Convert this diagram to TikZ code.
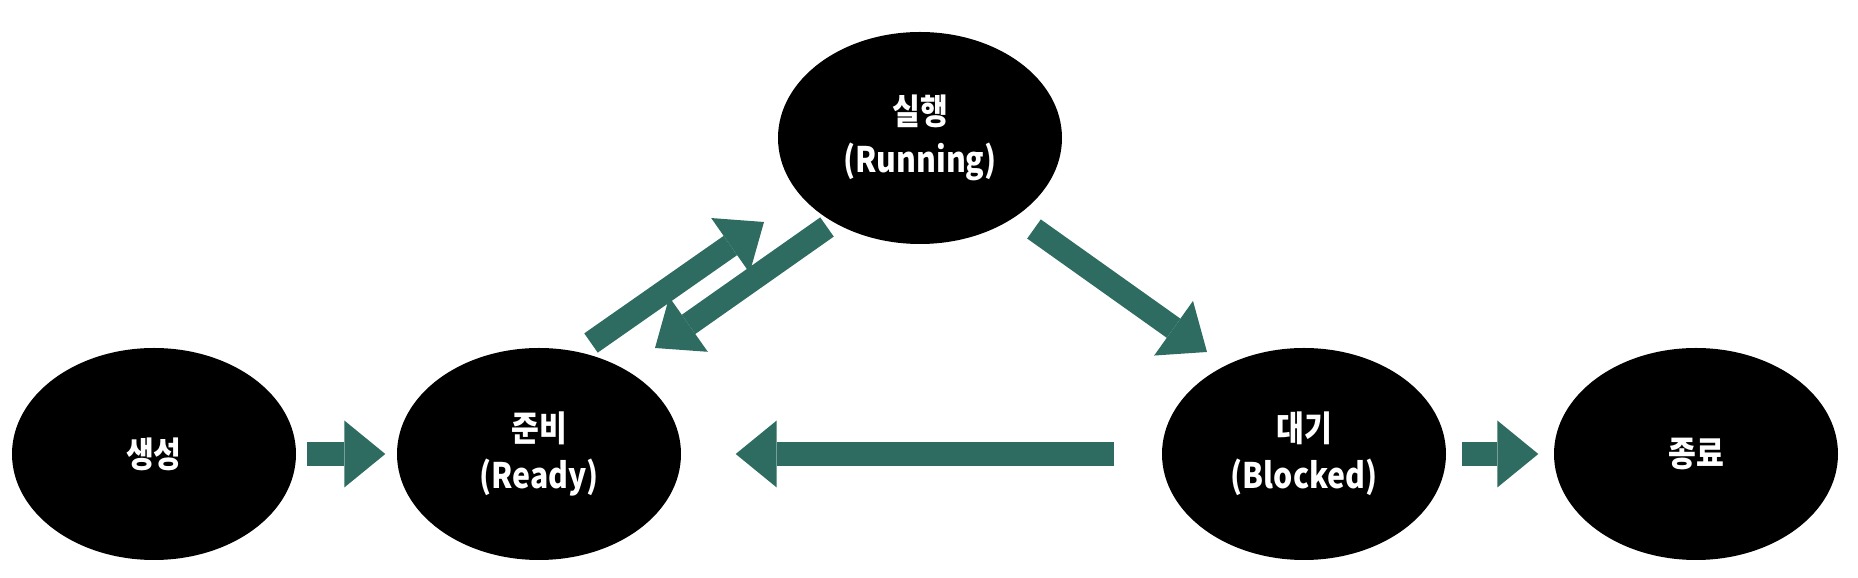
\documentclass[tikz,border=0pt]{standalone}
\usepackage{fontspec}
\usepackage{xcolor}
\usepackage{tikz}
\usetikzlibrary{shapes}
\usetikzlibrary{arrows.meta}
\newfontfamily\krfont[FakeStretch=0.86]{Noto Sans CJK KR}
\definecolor{arrowteal}{RGB}{46,107,97}
\tikzset{
	state node/.style={ellipse,fill=black,text=white,inner sep=0pt,minimum width=2.84cm,
		minimum height=2.12cm,align=center,font=\krfont\bfseries\fontsize{10}{13.5}\selectfont},
	bigarrow/.style={draw=arrowteal,line width=0.235cm,
		-{Triangle[width=0.67cm,length=0.41cm,line width=0pt]}}
}

\begin{document}
\begin{tikzpicture}[bigarrow/.append style={fill=arrowteal}]
      \useasboundingbox (0,0) rectangle (18.58,-5.78);
      \node[state node] (new) at (1.54,-4.54) {생성};
      \node[state node] (ready) at (5.39,-4.54) {준비\\(Ready)};
      \node[state node] (run) at (9.20,-1.38) {실행\\(Running)};
      \node[state node] (blocked) at (13.04,-4.54) {대기\\(Blocked)};
      \node[state node] (exit) at (16.96,-4.54) {종료};

      \draw[bigarrow,shorten <=0.10cm,shorten >=0.11cm] (new) -- (ready);
      \draw[bigarrow,shorten <=0.47cm,shorten >=0.54cm] (blocked) -- (ready);
      \draw[bigarrow,shorten <=0.15cm,shorten >=0.15cm] (blocked) -- (exit);
      \draw[bigarrow] ([shift={(0.52,1.11)}]ready.center) -- ([shift={(-1.56,-0.84)}]run.center);
      \draw[bigarrow] ([shift={(-0.93,-0.89)}]run.center) -- ([shift={(1.16,1.06)}]ready.center);
      \draw[bigarrow] ([shift={(1.14,-0.91)}]run.center) -- ([shift={(-0.97,1.02)}]blocked.center);
\end{tikzpicture}
\end{document}
